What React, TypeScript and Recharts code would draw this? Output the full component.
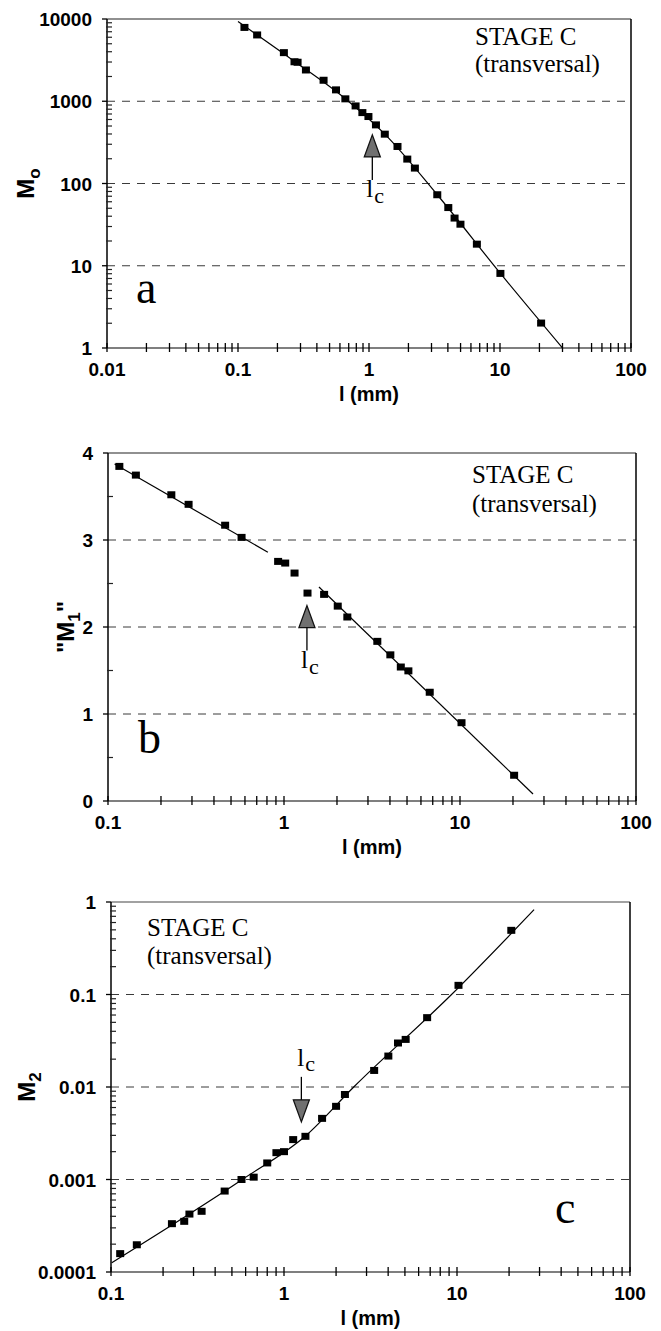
import React from "react";
import {
  ComposedChart,
  Scatter,
  Line,
  XAxis,
  YAxis,
  ReferenceLine,
  ReferenceDot,
} from "recharts";

// panel a: M0 vs l (mm)
const lA = [0.112, 0.14, 0.224, 0.27, 0.285, 0.33, 0.45, 0.56, 0.66, 0.79, 0.89, 0.99, 1.13, 1.32, 1.65, 1.96, 2.24, 3.32, 4.03, 4.5, 4.99, 6.66, 10.07, 20.6];
const m0 = [7900, 6400, 3900, 3020, 2980, 2400, 1800, 1375, 1070, 877, 728, 652, 516, 398, 282, 198, 154, 73, 51, 38, 32, 18.3, 8.07, 2.01];
const fitAL = [0.1, 0.27, 0.66, 1.32, 3.32, 10.07, 30];
const fitAM = [9300, 3050, 1070, 398, 73, 8.07, 1];

// panel b: "M1" vs l (mm)
const lB = [0.116, 0.144, 0.229, 0.287, 0.463, 0.574, 0.926, 1.016, 1.148, 1.36, 1.69, 2.02, 2.29, 3.39, 4.02, 4.61, 5.09, 6.73, 10.2, 20.3];
const m1 = [3.846, 3.746, 3.52, 3.41, 3.17, 3.03, 2.754, 2.735, 2.62, 2.39, 2.375, 2.24, 2.115, 1.835, 1.68, 1.54, 1.496, 1.25, 0.9, 0.296];
const seg1L = [0.109, 0.81];
const seg1M = [3.873, 2.86];
const seg2L = [1.58, 26];
const seg2M = [2.46, 0.08];

// panel c: M2 vs l (mm)
const lC = [0.113, 0.141, 0.225, 0.265, 0.284, 0.334, 0.454, 0.568, 0.668, 0.8, 0.904, 1.0, 1.13, 1.33, 1.66, 2.0, 2.25, 3.32, 4.01, 4.56, 5.05, 6.72, 10.2, 20.6];
const m2 = [1.58e-4, 1.97e-4, 3.33e-4, 3.53e-4, 4.23e-4, 4.53e-4, 7.5e-4, 1.0e-3, 1.06e-3, 1.51e-3, 1.95e-3, 2.0e-3, 2.7e-3, 2.93e-3, 4.58e-3, 6.18e-3, 8.3e-3, 0.0151, 0.0216, 0.0299, 0.0327, 0.0562, 0.1256, 0.494];
const fitCL = [0.101, 0.574, 1.33, 2.53, 9.3, 27.9];
const fitCM = [1.26e-4, 1e-3, 2.95e-3, 0.01, 0.1, 0.826];

// tick labels
const xMajA = [0.01, 0.1, 1, 10, 100];
const xMajBC = [0.1, 1, 10, 100];
const yMajA = [1, 10, 100, 1000, 10000];
const yMajB = [0, 1, 2, 3, 4];
const yMinB = [0.5, 1.5, 2.5, 3.5];
const yMajC = [0.0001, 0.001, 0.01, 0.1, 1];

const SERIF = "'Liberation Serif', 'Times New Roman', serif";
const SANS = "'Liberation Sans', Arial, sans-serif";

const zip = (xs: number[], ys: number[]) => xs.map((x, i) => ({ x, y: ys[i] }));

const withMinors = (majors: number[]) => {
  const out = [...majors];
  majors.slice(0, -1).forEach((m) => {
    for (let k = 2; k <= 9; k++) out.push(+(m * k).toPrecision(6));
  });
  return out.sort((a, b) => a - b);
};

const XTick = (props: any) => {
  const { x, y, payload, majors } = props;
  const major = majors.includes(payload.value);
  return (
    <g>
      <line x1={x} x2={x} y1={y - 5} y2={y + 4} stroke="#000" strokeWidth={1.3} />
      {major && (
        <text x={x} y={y + 28} textAnchor="middle" fontFamily={SANS} fontWeight="bold" fontSize={19} fill="#000">
          {String(payload.value)}
        </text>
      )}
    </g>
  );
};

const YTick = (props: any) => {
  const { x, y, payload, majors } = props;
  const major = majors.includes(payload.value);
  if (!major) return <line x1={x - 1} x2={x + 5} y1={y} y2={y} stroke="#222" strokeWidth={1.2} />;
  return (
    <g>
      <line x1={x - 5} x2={x} y1={y} y2={y} stroke="#000" strokeWidth={1.3} />
      <text x={x - 15} y={y + 7} textAnchor="end" fontFamily={SANS} fontWeight="bold" fontSize={19} fill="#000">
        {String(payload.value)}
      </text>
    </g>
  );
};

const XTitle = (props: any) => {
  const { viewBox } = props;
  const cx = viewBox.x + viewBox.width / 2;
  return (
    <text x={cx} y={viewBox.y + 53} textAnchor="middle" fontFamily={SANS} fontWeight="bold" fontSize={20} fill="#000">
      l (mm)
    </text>
  );
};

const YTitle = (props: any) => {
  const { viewBox, sub, quoted, base } = props;
  const cy = viewBox.y + viewBox.height / 2;
  return (
    <text transform={`translate(${base},${cy}) rotate(-90)`} textAnchor="middle" fontFamily={SANS} fontWeight="bold" fontSize={24} fill="#000">
      <tspan>{quoted ? '"M' : "M"}</tspan>
      <tspan fontSize={17} dy={6}>{sub}</tspan>
      {quoted && <tspan dy={-6}>"</tspan>}
    </text>
  );
};

const ArrowUp = (props: any) => {
  const { cx, cy } = props;
  return (
    <g>
      <polygon points={`${cx},${cy} ${cx - 8},${cy + 22} ${cx + 8},${cy + 22}`} fill="#707070" stroke="#111" strokeWidth={1.3} />
      <line x1={cx} x2={cx} y1={cy + 22} y2={cy + 45} stroke="#000" strokeWidth={1.3} />
      <text x={cx - 6} y={cy + 62} fontFamily={SERIF} fontSize={25} fill="#000">l</text>
      <text x={cx + 2} y={cy + 68} fontFamily={SERIF} fontSize={22} fill="#000">c</text>
    </g>
  );
};

const ArrowDown = (props: any) => {
  const { cx, cy } = props;
  return (
    <g>
      <polygon points={`${cx},${cy} ${cx - 8},${cy - 22} ${cx + 8},${cy - 22}`} fill="#707070" stroke="#111" strokeWidth={1.3} />
      <line x1={cx} x2={cx} y1={cy - 22} y2={cy - 45} stroke="#000" strokeWidth={1.3} />
      <text x={cx - 4} y={cy - 56} fontFamily={SERIF} fontSize={25} fill="#000">l</text>
      <text x={cx + 4} y={cy - 51} fontFamily={SERIF} fontSize={22} fill="#000">c</text>
    </g>
  );
};

const Square = (props: any) => {
  const { cx, cy } = props;
  return <rect x={cx - 4} y={cy - 3.5} width={8} height={7} fill="#000" />;
};

const grid = { stroke: "#3a3a3a", strokeWidth: 1, strokeDasharray: "8 7" };

const App = () => {
  const xTicksA = withMinors(xMajA);
  const xTicksBC = withMinors(xMajBC);
  const yTicksA = withMinors(yMajA);
  const yTicksC = withMinors(yMajC);
  const yTicksB = [...yMajB, ...yMinB].sort((a, b) => a - b);

  return (
    <div style={{ position: "absolute", top: 0, left: 0, width: 661, height: 1331, background: "#fff" }}>
      {/* panel a */}
      <div style={{ position: "absolute", top: 0, left: 0 }}>
        <ComposedChart width={661} height={420} margin={{ top: 19, right: 30, bottom: 0, left: 0 }}>
          <XAxis
            dataKey="x"
            type="number"
            scale="log"
            domain={[0.01, 100]}
            allowDataOverflow
            ticks={xTicksA}
            interval={0}
            tickSize={0}
            tickMargin={0}
            tickLine={false}
            height={72}
            axisLine={{ stroke: "#000", strokeWidth: 1.2 }}
            tick={(p: any) => <XTick {...p} majors={xMajA} />}
            label={<XTitle />}
          />
          <YAxis
            dataKey="y"
            type="number"
            scale="log"
            domain={[1, 10000]}
            allowDataOverflow
            ticks={yTicksA}
            interval={0}
            tickSize={0}
            tickMargin={0}
            tickLine={false}
            width={107}
            axisLine={{ stroke: "#000", strokeWidth: 1.5 }}
            tick={(p: any) => <YTick {...p} majors={yMajA} />}
            label={<YTitle sub="o" base={34} />}
          />
          <ReferenceLine y={10} {...grid} />
          <ReferenceLine y={100} {...grid} />
          <ReferenceLine y={1000} {...grid} />
          <ReferenceLine y={10000} stroke="#222" strokeWidth={1.2} />
          <ReferenceLine x={100} stroke="#000" strokeWidth={1.5} />
          <Line data={zip(fitAL, fitAM)} dataKey="y" type="monotone" stroke="#000" strokeWidth={1.2} dot={false} isAnimationActive={false} />
          <Scatter data={zip(lA, m0)} dataKey="y" fill="#000" shape={<Square />} isAnimationActive={false} />
          <ReferenceDot x={1.06} y={390} shape={(p: any) => <ArrowUp {...p} />} />
        </ComposedChart>
      </div>

      {/* panel b */}
      <div style={{ position: "absolute", top: 420, left: 0 }}>
        <ComposedChart width={661} height={440} margin={{ top: 33, right: 25, bottom: 0, left: 0 }}>
          <XAxis
            dataKey="x"
            type="number"
            scale="log"
            domain={[0.1, 100]}
            allowDataOverflow
            ticks={xTicksBC}
            interval={0}
            tickSize={0}
            tickMargin={0}
            tickLine={false}
            height={59}
            axisLine={{ stroke: "#000", strokeWidth: 1.2 }}
            tick={(p: any) => <XTick {...p} majors={xMajBC} />}
            label={<XTitle />}
          />
          <YAxis
            dataKey="y"
            type="number"
            domain={[0, 4]}
            allowDataOverflow
            ticks={yTicksB}
            interval={0}
            tickSize={0}
            tickMargin={0}
            tickLine={false}
            width={108}
            axisLine={{ stroke: "#000", strokeWidth: 1.5 }}
            tick={(p: any) => <YTick {...p} majors={yMajB} />}
            label={<YTitle sub="1" quoted base={74} />}
          />
          <ReferenceLine y={1} {...grid} />
          <ReferenceLine y={2} {...grid} />
          <ReferenceLine y={3} {...grid} />
          <ReferenceLine y={4} stroke="#222" strokeWidth={1.2} />
          <ReferenceLine x={100} stroke="#000" strokeWidth={1.5} />
          <Line data={zip(seg1L, seg1M)} dataKey="y" type="linear" stroke="#000" strokeWidth={1.2} dot={false} isAnimationActive={false} />
          <Line data={zip(seg2L, seg2M)} dataKey="y" type="linear" stroke="#000" strokeWidth={1.2} dot={false} isAnimationActive={false} />
          <Scatter data={zip(lB, m1)} dataKey="y" fill="#000" shape={<Square />} isAnimationActive={false} />
          <ReferenceDot x={1.35} y={2.246} shape={(p: any) => <ArrowUp {...p} />} />
        </ComposedChart>
      </div>

      {/* panel c */}
      <div style={{ position: "absolute", top: 860, left: 0 }}>
        <ComposedChart width={661} height={471} margin={{ top: 42, right: 31, bottom: 0, left: 0 }}>
          <XAxis
            dataKey="x"
            type="number"
            scale="log"
            domain={[0.1, 100]}
            allowDataOverflow
            ticks={xTicksBC}
            interval={0}
            tickSize={0}
            tickMargin={0}
            tickLine={false}
            height={59}
            axisLine={{ stroke: "#000", strokeWidth: 1.2 }}
            tick={(p: any) => <XTick {...p} majors={xMajBC} />}
            label={<XTitle />}
          />
          <YAxis
            dataKey="y"
            type="number"
            scale="log"
            domain={[0.0001, 1]}
            allowDataOverflow
            ticks={yTicksC}
            interval={0}
            tickSize={0}
            tickMargin={0}
            tickLine={false}
            width={111}
            axisLine={{ stroke: "#000", strokeWidth: 1.5 }}
            tick={(p: any) => <YTick {...p} majors={yMajC} />}
            label={<YTitle sub="2" base={35} />}
          />
          <ReferenceLine y={0.001} {...grid} />
          <ReferenceLine y={0.01} {...grid} />
          <ReferenceLine y={0.1} {...grid} />
          <ReferenceLine y={1} stroke="#444" strokeWidth={1.2} />
          <ReferenceLine x={100} stroke="#000" strokeWidth={1.5} />
          <Line data={zip(fitCL, fitCM)} dataKey="y" type="monotone" stroke="#000" strokeWidth={1.2} dot={false} isAnimationActive={false} />
          <Scatter data={zip(lC, m2)} dataKey="y" fill="#000" shape={<Square />} isAnimationActive={false} />
          <ReferenceDot x={1.26} y={0.0042} shape={(p: any) => <ArrowDown {...p} />} />
        </ComposedChart>
      </div>

      {/* panel captions */}
      <svg width={661} height={1331} style={{ position: "absolute", top: 0, left: 0, pointerEvents: "none" }}>
        <g fontFamily={SERIF} fill="#000">
          <text x={475} y={45} fontSize={25}>STAGE C</text>
          <text x={475} y={72} fontSize={25}>(transversal)</text>
          <text x={136} y={303} fontSize={46}>a</text>

          <text x={472} y={483} fontSize={25}>STAGE C</text>
          <text x={472} y={512} fontSize={25}>(transversal)</text>
          <text x={138} y={753} fontSize={46}>b</text>

          <text x={147} y={936} fontSize={25}>STAGE C</text>
          <text x={147} y={964} fontSize={25}>(transversal)</text>
          <text x={555} y={1223} fontSize={46}>c</text>
        </g>
      </svg>
    </div>
  );
};

export default App;
